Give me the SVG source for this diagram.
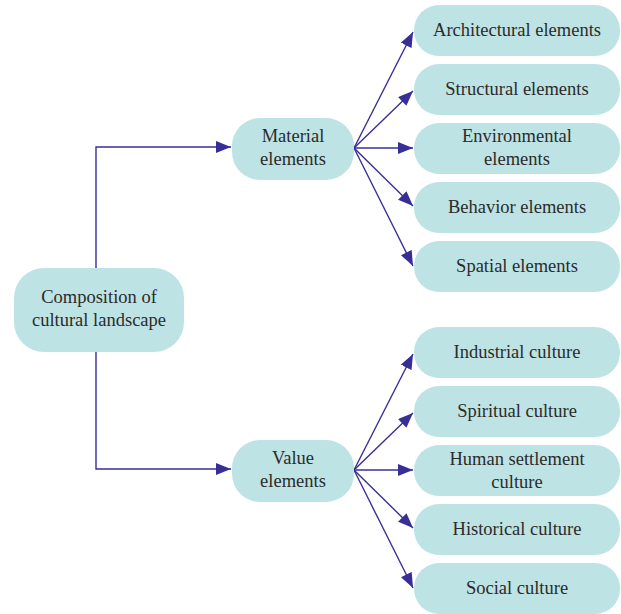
<svg xmlns="http://www.w3.org/2000/svg" width="621" height="614" viewBox="0 0 621 614">
<style>
.box{fill:#bee3e4;}
.t{font-family:'Liberation Serif','Times New Roman',serif;font-size:18.5px;fill:#2b2b2b;text-anchor:middle;}
.c{fill:none;stroke:#372f97;stroke-width:1.4;}
</style>
<defs>
<marker id="ah" markerUnits="userSpaceOnUse" markerWidth="16" markerHeight="12" refX="15" refY="6" orient="auto">
<path d="M0,0 L15,6 L0,12 Z" fill="#372f97"/>
</marker>
</defs>
<rect width="621" height="614" fill="#ffffff"/>
<g id="connectors">
<path class="c" d="M96,268 V147 H231" marker-end="url(#ah)"/>
<path class="c" d="M96,352 V469 H231" marker-end="url(#ah)"/>
<path class="c" d="M354,148 L413,32" marker-end="url(#ah)"/>
<path class="c" d="M354,148 L413,91" marker-end="url(#ah)"/>
<path class="c" d="M354,148 L413,148" marker-end="url(#ah)"/>
<path class="c" d="M354,148 L413,206" marker-end="url(#ah)"/>
<path class="c" d="M354,148 L413,266" marker-end="url(#ah)"/>
<path class="c" d="M354,470 L413,354" marker-end="url(#ah)"/>
<path class="c" d="M354,470 L413,413" marker-end="url(#ah)"/>
<path class="c" d="M354,470 L413,470" marker-end="url(#ah)"/>
<path class="c" d="M354,470 L413,528" marker-end="url(#ah)"/>
<path class="c" d="M354,470 L413,588" marker-end="url(#ah)"/>
</g>
<g id="composition">
<rect class="box" x="14" y="268" width="170" height="84" rx="30"/>
<text class="t" font-family="Liberation Serif, serif" x="99" y="303">Composition of</text>
<text class="t" font-family="Liberation Serif, serif" x="99" y="326">cultural landscape</text>
</g>
<g id="material">
<rect class="box" x="232" y="118" width="122" height="62" rx="28"/>
<text class="t" x="293" y="142">Material</text>
<text class="t" x="293" y="165">elements</text>
</g>
<g id="value">
<rect class="box" x="232" y="440" width="122" height="62" rx="28"/>
<text class="t" x="293" y="464">Value</text>
<text class="t" x="293" y="487">elements</text>
</g>
<g id="architectural">
<rect class="box" x="414" y="5" width="206" height="51" rx="25"/>
<text class="t" x="517" y="36">Architectural elements</text>
</g>
<g id="structural">
<rect class="box" x="414" y="64" width="206" height="51" rx="25"/>
<text class="t" x="517" y="95">Structural elements</text>
</g>
<g id="environmental">
<rect class="box" x="414" y="123" width="206" height="51" rx="25"/>
<text class="t" x="517" y="142">Environmental</text>
<text class="t" x="517" y="165">elements</text>
</g>
<g id="behavior">
<rect class="box" x="414" y="182" width="206" height="51" rx="25"/>
<text class="t" x="517" y="213">Behavior elements</text>
</g>
<g id="spatial">
<rect class="box" x="414" y="241" width="206" height="51" rx="25"/>
<text class="t" x="517" y="272">Spatial elements</text>
</g>
<g id="industrial">
<rect class="box" x="414" y="327" width="206" height="51" rx="25"/>
<text class="t" x="517" y="358">Industrial culture</text>
</g>
<g id="spiritual">
<rect class="box" x="414" y="386" width="206" height="51" rx="25"/>
<text class="t" x="517" y="417">Spiritual culture</text>
</g>
<g id="human">
<rect class="box" x="414" y="445" width="206" height="51" rx="25"/>
<text class="t" x="517" y="465">Human settlement</text>
<text class="t" x="517" y="488">culture</text>
</g>
<g id="historical">
<rect class="box" x="414" y="504" width="206" height="51" rx="25"/>
<text class="t" x="517" y="535">Historical culture</text>
</g>
<g id="social">
<rect class="box" x="414" y="563" width="206" height="51" rx="25"/>
<text class="t" x="517" y="594">Social culture</text>
</g>
</svg>
